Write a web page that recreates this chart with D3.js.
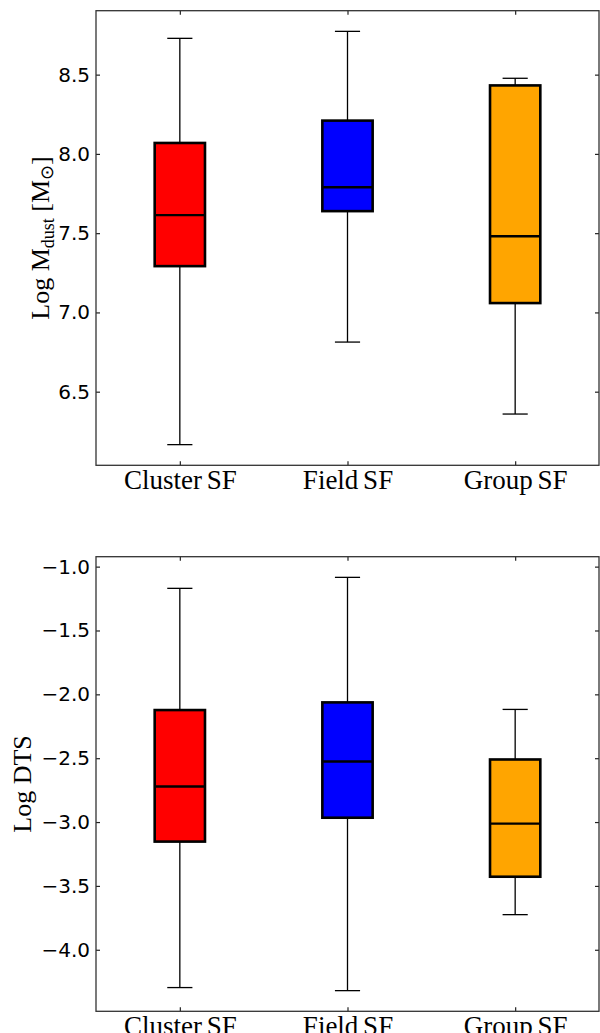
<!DOCTYPE html>
<html>
<head>
<meta charset="utf-8">
<script src="https://cdn.jsdelivr.net/npm/d3@7"></script>
<style>
  body { margin: 0; background: #fff; }
  .tick line { stroke: #222; stroke-width: 1.2; }
  .tick text { fill: #000; }
</style>
</head>
<body>
<div id="chart"></div>
<script>
// categories and colours
var groups = ["Cluster SF", "Field SF", "Group SF"];
var colors = ["#ff0000", "#0000ff", "#ffa500"];

// Log M_dust box stats (min, q1, median, q3, max)
var dustMin = [6.166, 6.813, 6.359];
var dustQ1  = [7.292, 7.639, 7.059];
var dustMed = [7.614, 7.790, 7.481];
var dustQ3  = [8.069, 8.210, 8.432];
var dustMax = [8.729, 8.773, 8.477];
var dustTicks = [6.5, 7.0, 7.5, 8.0, 8.5];

// Log DTS box stats
var dtsMin = [-4.296, -4.320, -3.725];
var dtsQ1  = [-3.153, -2.966, -3.428];
var dtsMed = [-2.722, -2.526, -3.012];
var dtsQ3  = [-2.123, -2.063, -2.510];
var dtsMax = [-1.170, -1.084, -2.118];
var dtsTicks = [-4.0, -3.5, -3.0, -2.5, -2.0, -1.5, -1.0];

var W = 600, H = 1033;
var left = 96, right = 599;

var svg = d3.select("#chart").append("svg")
    .attr("width", W)
    .attr("height", H);

// builds one panel of the figure
function drawPanel(top, bottom, mins, q1s, meds, q3s, maxs, ticks, labelFn, labelX) {
    var data = groups.map(function(g, i) {
        return {name: g, color: colors[i], min: mins[i], q1: q1s[i], med: meds[i], q3: q3s[i], max: maxs[i]};
    });

    // 5% margins like matplotlib autoscale
    var lo = d3.min(mins), hi = d3.max(maxs), pad = (hi - lo) * 0.05;

    var x = d3.scalePoint().domain(groups).range([left, right]).padding(0.5);
    var y = d3.scaleLinear().domain([lo - pad, hi + pad]).range([bottom, top]);
    var step = x.step();
    var boxW = 0.3 * step, capW = 0.15 * step;

    var g = svg.append("g");

    // whiskers
    g.selectAll(".whisk").data(data).enter().append("g")
        .each(function(d) {
            var s = d3.select(this);
            s.append("line").attr("x1", x(d.name)).attr("x2", x(d.name))
                .attr("y1", y(d.q3)).attr("y2", y(d.max))
                .attr("stroke", "#000").attr("stroke-width", 1.3);
            s.append("line").attr("x1", x(d.name)).attr("x2", x(d.name))
                .attr("y1", y(d.q1)).attr("y2", y(d.min))
                .attr("stroke", "#000").attr("stroke-width", 1.3);
            s.append("line").attr("x1", x(d.name) - capW / 2).attr("x2", x(d.name) + capW / 2)
                .attr("y1", y(d.max)).attr("y2", y(d.max))
                .attr("stroke", "#000").attr("stroke-width", 1.3);
            s.append("line").attr("x1", x(d.name) - capW / 2).attr("x2", x(d.name) + capW / 2)
                .attr("y1", y(d.min)).attr("y2", y(d.min))
                .attr("stroke", "#000").attr("stroke-width", 1.3);
        });

    // boxes
    g.selectAll(".box").data(data).enter().append("rect")
        .attr("x", function(d) { return x(d.name) - boxW / 2; })
        .attr("y", function(d) { return y(d.q3); })
        .attr("width", boxW)
        .attr("height", function(d) { return y(d.q1) - y(d.q3); })
        .attr("fill", function(d) { return d.color; })
        .attr("stroke", "#000")
        .attr("stroke-width", 2.6);

    // medians
    g.selectAll(".med").data(data).enter().append("line")
        .attr("x1", function(d) { return x(d.name) - boxW / 2; })
        .attr("x2", function(d) { return x(d.name) + boxW / 2; })
        .attr("y1", function(d) { return y(d.med); })
        .attr("y2", function(d) { return y(d.med); })
        .attr("stroke", "#000")
        .attr("stroke-width", 2.4);

    // axes, ticks pointing inward
    var yAxis = d3.axisLeft(y).tickValues(ticks).tickFormat(d3.format(".1f"))
        .tickSizeInner(-4).tickSizeOuter(0).tickPadding(6);
    var ax = g.append("g").attr("transform", "translate(" + left + ",0)").call(yAxis);
    ax.selectAll("text").style("font-family", "DejaVu Sans").style("font-size", "20px");
    ax.select(".domain").remove();

    var yAxisR = d3.axisRight(y).tickValues(ticks).tickFormat("")
        .tickSizeInner(-4).tickSizeOuter(0);
    g.append("g").attr("transform", "translate(" + right + ",0)").call(yAxisR)
        .select(".domain").remove();

    var xAxis = d3.axisBottom(x).tickSizeInner(-4).tickSizeOuter(0).tickPadding(5);
    var bx = g.append("g").attr("transform", "translate(0," + bottom + ")").call(xAxis);
    bx.selectAll("text").style("font-family", "Liberation Serif").style("font-size", "27px")
        .style("word-spacing", "-2px");
    bx.select(".domain").remove();

    var xAxisT = d3.axisTop(x).tickFormat("").tickSizeInner(-4).tickSizeOuter(0);
    g.append("g").attr("transform", "translate(0," + top + ")").call(xAxisT)
        .select(".domain").remove();

    // frame
    g.append("rect")
        .attr("x", left).attr("y", top)
        .attr("width", right - left).attr("height", bottom - top)
        .attr("fill", "none").attr("stroke", "#333").attr("stroke-width", 1.3);

    // y label
    var lab = g.append("text")
        .attr("transform", "translate(" + labelX + "," + ((top + bottom) / 2) + ") rotate(-90)")
        .attr("text-anchor", "middle")
        .style("font-family", "Liberation Serif")
        .style("font-size", "26px");
    labelFn(lab);
}

drawPanel(10.7, 465.3, dustMin, dustQ1, dustMed, dustQ3, dustMax, dustTicks, function(t) {
    t.append("tspan").text("Log M");
    t.append("tspan").attr("dy", 5).style("font-size", "18px").text("dust");
    t.append("tspan").attr("dy", -5).text(" [M");
    t.append("tspan").attr("dy", 4).style("font-size", "18px").text("\u2299");
    t.append("tspan").attr("dy", -4).text("]");
}, 49);

drawPanel(556.7, 1011.3, dtsMin, dtsQ1, dtsMed, dtsQ3, dtsMax, dtsTicks, function(t) {
    t.text("Log DTS");
}, 31);
</script>
</body>
</html>
